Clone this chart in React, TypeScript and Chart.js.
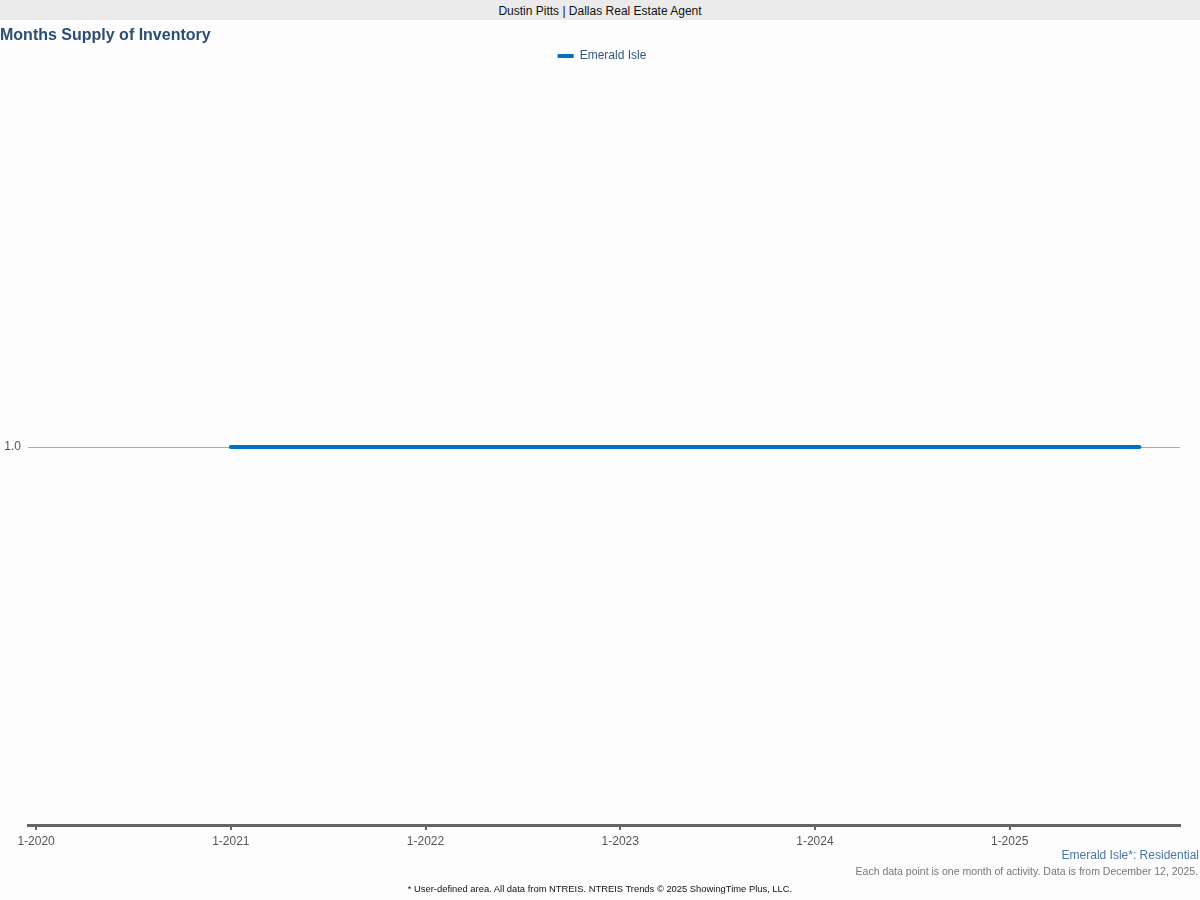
import React, { useEffect, useRef } from "react";
import { Chart, registerables } from "chart.js";

Chart.register(...registerables);

const headerText = "Dustin Pitts | Dallas Real Estate Agent";
const chartTitle = "Months Supply of Inventory";
const seriesName = "Emerald Isle";
const footerArea = "Emerald Isle*: Residential";
const footerNote = "Each data point is one month of activity. Data is from December 12, 2025.";
const footerSource = "* User-defined area. All data from NTREIS. NTREIS Trends \u00a9 2025 ShowingTime Plus, LLC.";

const monthLabels = [
  "1-2020", "2-2020", "3-2020", "4-2020", "5-2020", "6-2020", "7-2020", "8-2020", "9-2020", "10-2020", "11-2020", "12-2020",
  "1-2021", "2-2021", "3-2021", "4-2021", "5-2021", "6-2021", "7-2021", "8-2021", "9-2021", "10-2021", "11-2021", "12-2021",
  "1-2022", "2-2022", "3-2022", "4-2022", "5-2022", "6-2022", "7-2022", "8-2022", "9-2022", "10-2022", "11-2022", "12-2022",
  "1-2023", "2-2023", "3-2023", "4-2023", "5-2023", "6-2023", "7-2023", "8-2023", "9-2023", "10-2023", "11-2023", "12-2023",
  "1-2024", "2-2024", "3-2024", "4-2024", "5-2024", "6-2024", "7-2024", "8-2024", "9-2024", "10-2024", "11-2024", "12-2024",
  "1-2025", "2-2025", "3-2025", "4-2025", "5-2025", "6-2025", "7-2025", "8-2025", "9-2025", "10-2025", "11-2025",
];

const supplyValues = [
  null, null, null, null, null, null, null, null, null, null, null, null,
  1.0, 1.0, 1.0, 1.0, 1.0, 1.0, 1.0, 1.0, 1.0, 1.0, 1.0, 1.0,
  1.0, 1.0, 1.0, 1.0, 1.0, 1.0, 1.0, 1.0, 1.0, 1.0, 1.0, 1.0,
  1.0, 1.0, 1.0, 1.0, 1.0, 1.0, 1.0, 1.0, 1.0, 1.0, 1.0, 1.0,
  1.0, 1.0, 1.0, 1.0, 1.0, 1.0, 1.0, 1.0, 1.0, 1.0, 1.0, 1.0,
  1.0, 1.0, 1.0, 1.0, 1.0, 1.0, 1.0, 1.0, 1.0, null, null,
];

const yTickValues = [1.0];

const FONT = "'Liberation Sans', Arial, sans-serif";
const LINE_COLOR = "#0070c0";

const legendShift = {
  id: "legendShift",
  afterLayout(chart: any) {
    const lg = chart.legend;
    if (!lg) return;
    lg.left += 12;
    lg.right += 12;
    lg.top += 3;
    lg.bottom += 3;
  },
};

export default function App() {
  const canvasRef = useRef<HTMLCanvasElement | null>(null);

  useEffect(() => {
    if (!canvasRef.current) return;
    const chart = new Chart(canvasRef.current, {
      type: "line",
      data: {
        labels: monthLabels,
        datasets: [
          {
            label: seriesName,
            data: supplyValues,
            borderColor: LINE_COLOR,
            backgroundColor: LINE_COLOR,
            borderWidth: 4,
            borderCapStyle: "round",
            pointRadius: 0,
            pointHoverRadius: 0,
            spanGaps: false,
            tension: 0,
          },
        ],
      },
      plugins: [legendShift],
      options: {
        animation: false,
        responsive: false,
        maintainAspectRatio: false,
        layout: { padding: { top: 40, right: 20, bottom: 45, left: 0 } },
        plugins: {
          tooltip: { enabled: false },
          legend: {
            display: true,
            position: "top",
            labels: {
              boxWidth: 16,
              boxHeight: 4,
              padding: 7,
              color: "#34587c",
              font: { family: FONT, size: 12 },
              generateLabels: (c: any) =>
                c.data.datasets.map((ds: any, i: number) => ({
                  text: ds.label,
                  fillStyle: LINE_COLOR,
                  strokeStyle: LINE_COLOR,
                  lineWidth: 0,
                  hidden: false,
                  datasetIndex: i,
                  fontColor: "#34587c",
                })),
            },
          },
        },
        scales: {
          x: {
            type: "category",
            offset: true,
            grid: {
              display: true,
              drawOnChartArea: false,
              drawTicks: true,
              tickLength: 5,
              color: "#666666",
              lineWidth: 2,
            },
            border: { display: true, color: "#666666", width: 3 },
            ticks: {
              autoSkip: false,
              maxRotation: 0,
              minRotation: 0,
              padding: 4,
              color: "#555555",
              font: { family: FONT, size: 12 },
              callback: function (this: any, value: any) {
                const lab = monthLabels[value as number];
                return lab && lab.startsWith("1-") ? lab : null;
              },
            },
            afterFit: (scale: any) => {
              scale.height = 30;
            },
          },
          y: {
            type: "linear",
            min: 0,
            max: 2,
            grid: {
              display: true,
              drawTicks: false,
              color: "#aaaaaa",
              lineWidth: 1,
            },
            border: { display: false },
            ticks: {
              padding: 7,
              color: "#555555",
              font: { family: FONT, size: 12 },
              callback: (v: any) => Number(v).toFixed(1),
            },
            afterBuildTicks: (scale: any) => {
              scale.ticks = yTickValues.map((v) => ({ value: v }));
            },
            afterFit: (scale: any) => {
              scale.width = 28;
            },
          },
        },
      },
    });
    return () => chart.destroy();
  }, []);

  return (
    <div style={{ position: "absolute", left: 0, top: 0, width: 1200, height: 900, background: "#fdfdfd", fontFamily: FONT }}>
      <canvas ref={canvasRef} width={1200} height={900} style={{ position: "absolute", left: 0, top: 0, width: 1200, height: 900 }} />
      <div style={{ position: "absolute", left: 0, top: 0, width: 1200, height: 20, background: "#ebebeb", textAlign: "center", fontSize: 12, lineHeight: "22px", color: "#111" }}>
        {headerText}
      </div>
      <div style={{ position: "absolute", left: 0, top: 25, fontSize: 16, fontWeight: "bold", color: "#2a4e73", lineHeight: "20px" }}>
        {chartTitle}
      </div>
      <div style={{ position: "absolute", right: 1, top: 847, fontSize: 12, color: "#4a76a8", lineHeight: "16px", textAlign: "right" }}>
        {footerArea}
      </div>
      <div style={{ position: "absolute", right: 2, top: 864, fontSize: 10.5, color: "#777777", lineHeight: "14px", textAlign: "right" }}>
        {footerNote}
      </div>
      <div style={{ position: "absolute", left: 0, width: 1200, top: 883, fontSize: 9.4, color: "#111", lineHeight: "12px", textAlign: "center" }}>
        {footerSource}
      </div>
    </div>
  );
}
